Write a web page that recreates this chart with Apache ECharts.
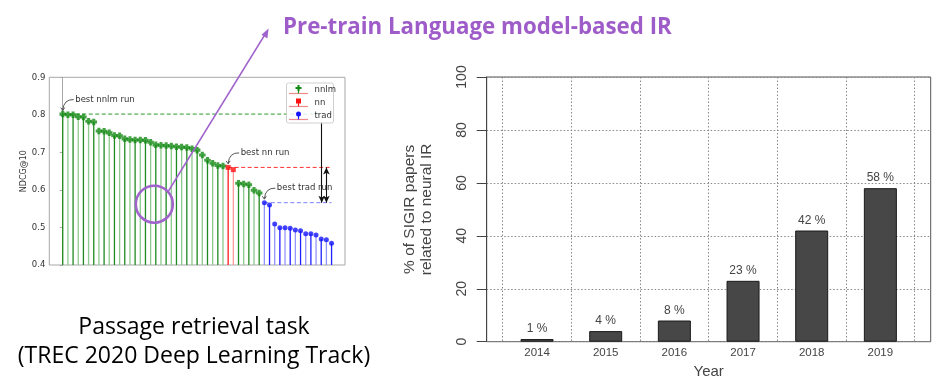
<!DOCTYPE html>
<html><head><meta charset="utf-8">
<script src="https://cdn.jsdelivr.net/npm/echarts@6/dist/echarts.min.js"></script>
<style>html,body{margin:0;padding:0;background:#fff}#c{width:951px;height:388px}</style>
</head><body><div id="c"></div>
<script>
// ---- Left chart: TREC 2020 DL passage runs (NDCG@10), ordered by rank ----
const runNdcg = [
  0.802,0.800,0.800,0.795,0.794,0.783,0.781,0.757,0.756,0.752,0.745,0.744,0.736,0.734,0.733,0.733,0.732,0.727,
  0.720,0.719,0.718,0.717,0.715,0.714,0.713,0.710,0.706,0.693,0.679,0.671,0.665,0.664,
  0.660,0.654,
  0.618,0.616,0.614,0.599,0.592,
  0.566,0.560,0.509,0.499,0.499,0.498,0.493,0.491,0.483,0.483,0.480,0.469,0.467,0.458
];
const runType = [
  'nnlm','nnlm','nnlm','nnlm','nnlm','nnlm','nnlm','nnlm','nnlm','nnlm','nnlm','nnlm','nnlm','nnlm','nnlm','nnlm',
  'nnlm','nnlm','nnlm','nnlm','nnlm','nnlm','nnlm','nnlm','nnlm','nnlm','nnlm','nnlm','nnlm','nnlm','nnlm','nnlm',
  'nn','nn',
  'nnlm','nnlm','nnlm','nnlm','nnlm',
  'trad','trad','trad','trad','trad','trad','trad','trad','trad','trad','trad','trad','trad','trad'
];
const runGroups = ['nnlm','nn','trad'];
const yTicksLeft = [0.4, 0.5, 0.6, 0.7, 0.8, 0.9];

// ---- Right chart: share of SIGIR papers related to neural IR ----
const years = ['2014','2015','2016','2017','2018','2019'];
const sigirNeuralPct = [1, 4, 8, 23, 42, 58];

// ---- Text ----
const headline = 'Pre-train Language model-based IR';
const captionLines = ['Passage retrieval task', '(TREC 2020 Deep Learning Track)'];

// styles
const groupColor = {nnlm:['#1f8a1f','#8cc98c'], nn:['#ff1a1a','#ff9a9a'], trad:['#2020ff','#9494ff']};
const markerColor = {nnlm:'#138a13', nn:'#ff1010', trad:'#1414ff'};
const markerSymbol = {
  nnlm: 'path://M1.6,0H4.4V1.6H6V4.4H4.4V6H1.6V4.4H0V1.6H1.6Z',
  nn: 'rect',
  trad: 'circle'
};
const markerSize = {nnlm:6.5, nn:5, trad:5};
const dashColor = {nnlm:'#2a9a2a', nn:'#ff3030', trad:'#7f7fff'};
const purple = '#a064cc';

const points = runNdcg.map((v, i) => [i, v, runType[i]]);
const lastIdx = runNdcg.length - 1;
const bestIdx = {};
runGroups.forEach(g => { bestIdx[g] = runType.indexOf(g); });

const series = [];
// stems
series.push({
  type: 'custom', xAxisIndex: 0, yAxisIndex: 0, z: 2,
  data: points.map(p => [p[0], p[1]]),
  renderItem: function (params, api) {
    const x = api.value(0), y = api.value(1);
    const top = api.coord([x, y]);
    const bot = api.coord([x, yTicksLeft[0]]);
    const g = runType[params.dataIndex];
    return {type: 'line', shape: {x1: top[0], y1: top[1], x2: bot[0], y2: bot[1]},
      style: {stroke: groupColor[g][params.dataIndex % 2], lineWidth: 1.3}};
  }
});
// markers + dashed reference lines
runGroups.forEach(g => {
  series.push({
    type: 'scatter', name: g, xAxisIndex: 0, yAxisIndex: 0, z: 5,
    symbol: markerSymbol[g], symbolSize: markerSize[g], symbolKeepAspect: true,
    itemStyle: {color: markerColor[g]},
    data: points.filter(p => p[2] === g).map(p => [p[0], p[1]])
  });
  const b = bestIdx[g];
  series.push({
    type: 'line', xAxisIndex: 0, yAxisIndex: 0, z: 3, symbol: 'none', silent: true,
    lineStyle: {color: dashColor[g], type: [4, 2.5], width: 1},
    data: [[b, runNdcg[b]], [lastIdx - (g === 'nnlm' ? 0.3 : 0), runNdcg[b]]]
  });
});
// gap arrows
series.push({
  type: 'line', xAxisIndex: 0, yAxisIndex: 0, data: [], silent: true,
  markLine: {
    silent: true, symbolSize: [5, 7], label: {show: false},
    lineStyle: {color: '#111', type: 'solid', width: 1.1},
    data: [
      [{coord: [lastIdx - 1.9, runNdcg[bestIdx.nnlm] - 0.02], symbol: 'none'}, {coord: [lastIdx - 1.9, runNdcg[bestIdx.trad]], symbol: 'arrow'}],
      [{coord: [lastIdx - 1.0, runNdcg[bestIdx.trad]], symbol: 'arrow'}, {coord: [lastIdx - 1.0, runNdcg[bestIdx.nn]], symbol: 'arrow'}]
    ]
  }
});
// right bars
series.push({
  type: 'bar', xAxisIndex: 2, yAxisIndex: 2, barWidth: 33, data: sigirNeuralPct, z: 3,
  itemStyle: {color: '#474747', borderColor: '#1a1a1a', borderWidth: 1},
  label: {show: true, position: 'top', distance: 4, formatter: '{c} %', fontSize: 12,
    fontFamily: 'Liberation Sans', color: '#444'}
});

const option = {
  animation: false,
  grid: [
    {left: 49.3, top: 77.3, width: 295.7, height: 187.7, show: true, borderColor: '#a8a8a8', borderWidth: 1},
    {left: 486.7, top: 77, width: 444, height: 264.7, show: true, borderColor: '#555', borderWidth: 1},
    {left: 502.7, top: 77, width: 412, height: 264.7}
  ],
  xAxis: [
    {gridIndex: 0, type: 'value', min: -2.6, max: 54.6, axisLine: {show: false}, axisTick: {show: false},
      axisLabel: {show: false}, splitLine: {show: false}},
    {gridIndex: 1, type: 'value', min: 0, max: 1, show: false},
    {gridIndex: 2, type: 'category', data: years, boundaryGap: true,
      axisLine: {show: false}, axisTick: {show: false},
      axisLabel: {interval: 0, fontSize: 11.5, color: '#444', margin: 5, fontFamily: 'Liberation Sans'},
      splitLine: {show: true, interval: 0, lineStyle: {type: [1.5, 2], color: '#888', width: 1}},
      name: 'Year', nameLocation: 'middle', nameGap: 23,
      nameTextStyle: {fontSize: 15, color: '#444', fontFamily: 'Liberation Sans'}}
  ],
  yAxis: [
    {gridIndex: 0, type: 'value', min: 0.4, max: 0.9, interval: 0.1,
      axisLine: {show: true, lineStyle: {color: '#a8a8a8'}},
      axisTick: {show: true, length: 3, lineStyle: {color: '#a8a8a8'}},
      axisLabel: {fontSize: 8.5, color: '#333', margin: 4, fontFamily: 'DejaVu Sans',
        formatter: v => v.toFixed(1)},
      splitLine: {show: false},
      name: 'NDCG@10', nameLocation: 'middle', nameGap: 21, nameRotate: 90,
      nameTextStyle: {fontSize: 8, color: '#333', fontFamily: 'DejaVu Sans'}},
    {gridIndex: 1, type: 'value', min: 0, max: 100, interval: 20,
      axisLine: {show: true, lineStyle: {color: '#444'}},
      axisTick: {show: true, length: 10, lineStyle: {color: '#444'}},
      axisLabel: {rotate: 90, fontSize: 14, color: '#444', margin: 18, fontFamily: 'Liberation Sans'},
      splitLine: {show: true, lineStyle: {type: [1.5, 2], color: '#888', width: 1}},
      name: '% of SIGIR papers\nrelated to neural IR', nameLocation: 'middle', nameGap: 51, nameRotate: 90,
      nameTextStyle: {fontSize: 15.5, color: '#444', lineHeight: 17, fontFamily: 'Liberation Sans'}},
    {gridIndex: 2, type: 'value', min: 0, max: 100, show: false}
  ],
  series: series
};

const chart = echarts.init(document.getElementById('c'));
chart.setOption(option);

// ---- overlay graphics (annotations, legend, headline, caption) ----
const gfx = [];
const annLabels = {nnlm: 'best nnlm run', nn: 'best nn run', trad: 'best trad run'};
runGroups.forEach(g => {
  const b = bestIdx[g];
  const p = chart.convertToPixel({gridIndex: 0}, [b, runNdcg[b]]);
  gfx.push({type: 'text', z: 20, style: {x: p[0] + 12.5, y: p[1] - 14.5, text: annLabels[g],
    font: '8.5px "DejaVu Sans"', fill: '#333', textVerticalAlign: 'middle', textAlign: 'left'}});
  gfx.push({type: 'bezierCurve', z: 20, shape: {x1: p[0] + 11, y1: p[1] - 14.5, x2: p[0], y2: p[1] - 4,
    cpx1: p[0] + 1, cpy1: p[1] - 15}, style: {stroke: '#444', lineWidth: 0.9, fill: null}});
  gfx.push({type: 'polyline', z: 20, shape: {points: [[p[0] - 2, p[1] - 6.5], [p[0], p[1] - 3.5], [p[0] + 2, p[1] - 6.5]]},
    style: {stroke: '#444', lineWidth: 0.9, fill: null}});
});
// legend
const lx = 286.5, ly = 83;
gfx.push({type: 'rect', z: 15, shape: {x: lx, y: ly, width: 47, height: 40, r: 2},
  style: {fill: 'rgba(255,255,255,0.85)', stroke: '#d0d0d0', lineWidth: 1}});
runGroups.forEach((g, k) => {
  const cy = ly + 7 + k * 13;
  gfx.push({type: 'line', z: 16, shape: {x1: lx + 2.5, y1: cy + 3.5, x2: lx + 21.5, y2: cy + 3.5},
    style: {stroke: '#f08a8a', lineWidth: 1.2}});
  gfx.push({type: 'line', z: 16, shape: {x1: lx + 12, y1: cy - 2, x2: lx + 12, y2: cy + 3.5},
    style: {stroke: groupColor[g][0], lineWidth: 1.2}});
  if (g === 'nnlm') {
    gfx.push({type: 'polygon', z: 17, shape: {points: [[lx+11,cy-5],[lx+13,cy-5],[lx+13,cy-3],[lx+15,cy-3],[lx+15,cy-1],[lx+13,cy-1],[lx+13,cy+1],[lx+11,cy+1],[lx+11,cy-1],[lx+9,cy-1],[lx+9,cy-3],[lx+11,cy-3]]}, style: {fill: markerColor[g]}});
  } else if (g === 'nn') {
    gfx.push({type: 'rect', z: 17, shape: {x: lx + 9.5, y: cy - 4.5, width: 5, height: 5}, style: {fill: markerColor[g]}});
  } else {
    gfx.push({type: 'circle', z: 17, shape: {cx: lx + 12, cy: cy - 2, r: 2.5}, style: {fill: markerColor[g]}});
  }
  gfx.push({type: 'text', z: 17, style: {x: lx + 28, y: cy, text: g, font: '8.5px "DejaVu Sans"', fill: '#333',
    textVerticalAlign: 'middle', textAlign: 'left'}});
});
// purple highlight circle and arrow
gfx.push({type: 'circle', z: 30, shape: {cx: 154.3, cy: 204.2, r: 18.5}, style: {fill: null, stroke: purple, lineWidth: 2.6}});
gfx.push({type: 'line', z: 30, shape: {x1: 168.5, y1: 191, x2: 266.5, y2: 32}, style: {stroke: purple, lineWidth: 1.5}});
gfx.push({type: 'polygon', z: 30, shape: {points: [[268.6, 28.5], [267.4, 38.5], [261.5, 34.8]]}, style: {fill: purple}});
// headline
gfx.push({type: 'text', z: 30, style: {x: 283, y: 28, text: headline, font: 'bold 22.3px "Open Sans"',
  fill: '#9e5cc9', textVerticalAlign: 'middle', textAlign: 'left'}});
// caption
captionLines.forEach((t, k) => {
  gfx.push({type: 'text', z: 30, style: {x: 194, y: 327 + k * 29, text: t, font: '23px "Open Sans"',
    fill: '#000', textVerticalAlign: 'middle', textAlign: 'center'}});
});
chart.setOption({graphic: gfx});
</script>
</body></html>
